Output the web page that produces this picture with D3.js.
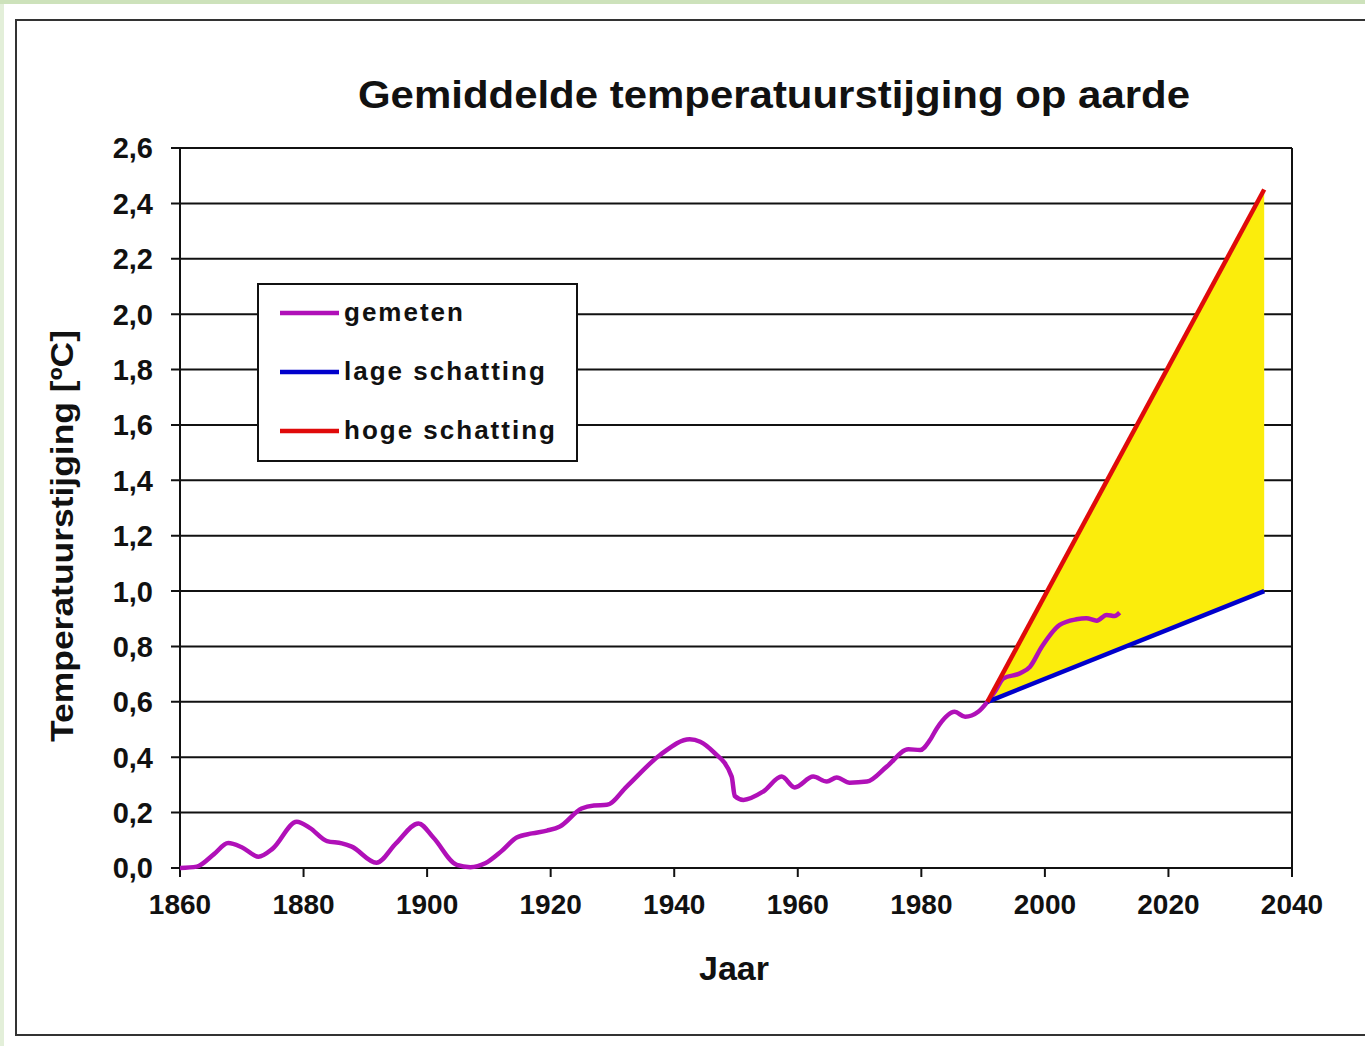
<!DOCTYPE html>
<html>
<head>
<meta charset="utf-8">
<script src="https://cdn.jsdelivr.net/npm/d3@7"></script>
<style>
  body { margin: 0; background: #fff; }
  svg text { font-family: Arial, "Liberation Sans", sans-serif; font-weight: bold; fill: #111; }
</style>
</head>
<body>
<div id="chart"></div>
<script>
// measured temperature rise (gemeten)
var measYears = [1860, 1862.7, 1865.5, 1867.8, 1870, 1872.7, 1875, 1878.9, 1881, 1883.8, 1886.2, 1887.8,
    1891.8, 1895, 1898.6, 1901, 1904.8, 1907, 1909.4, 1912, 1914.5, 1917, 1919.4, 1921.5, 1925, 1927,
    1929.1, 1932.3, 1937.7, 1942.5, 1944.2, 1946.3, 1949.3, 1949.8, 1951.2, 1954.4, 1957.4, 1959.5,
    1962.5, 1964.7, 1966.3, 1968.4, 1971.2, 1974.4, 1977.9, 1979.8, 1981.4, 1982.5, 1985.4, 1987.1,
    1989.2, 1990.7, 1992, 1993.3, 1996, 1997.6, 1999.5, 2002.4, 2005.1, 2006.7, 2008.4, 2010, 2011.3, 2012.1];
var measValues = [0.0, 0.005, 0.05, 0.09, 0.075, 0.041, 0.07, 0.167, 0.145, 0.097, 0.089, 0.077,
    0.019, 0.09, 0.161, 0.11, 0.011, 0.003, 0.017, 0.06, 0.11, 0.125, 0.135, 0.15, 0.215, 0.226,
    0.228, 0.294, 0.408, 0.465, 0.456, 0.42, 0.33, 0.26, 0.246, 0.276, 0.33, 0.291,
    0.33, 0.312, 0.327, 0.308, 0.312, 0.366, 0.429, 0.426, 0.462, 0.504, 0.564, 0.546,
    0.564, 0.6, 0.64, 0.685, 0.703, 0.727, 0.799, 0.878, 0.898, 0.902, 0.893, 0.914, 0.91, 0.922];

// projections
var projYears = [1990.7, 2035.5];
var lowValues = [0.6, 1.0];   // lage schatting
var highValues = [0.6, 2.45]; // hoge schatting

var xTicks = [1860, 1880, 1900, 1920, 1940, 1960, 1980, 2000, 2020, 2040];
var yTicks = [0, 0.2, 0.4, 0.6, 0.8, 1.0, 1.2, 1.4, 1.6, 1.8, 2.0, 2.2, 2.4, 2.6];

var legendNames = ["gemeten", "lage schatting", "hoge schatting"];
var legendColors = ["#b010b8", "#0000cc", "#e00a0a"];

var W = 1365, H = 1046;
var margin = {top: 148, right: 73, bottom: 178, left: 180};
var width = W - margin.left - margin.right;
var height = H - margin.top - margin.bottom;

var svg = d3.select("#chart").append("svg")
    .attr("width", W)
    .attr("height", H);

// page frame
svg.append("rect").attr("x", 0).attr("y", 0).attr("width", W).attr("height", H).attr("fill", "#e3efd9");
svg.append("rect").attr("x", 0).attr("y", 0).attr("width", W).attr("height", 4).attr("fill", "#cde2bb");
svg.append("rect").attr("x", 4).attr("y", 4).attr("width", W - 4).attr("height", H - 4).attr("fill", "#fff");
svg.append("rect").attr("x", 16).attr("y", 20).attr("width", W + 10).attr("height", 1015)
    .attr("fill", "none").attr("stroke", "#333").attr("stroke-width", 2);

var g = svg.append("g")
    .attr("transform", "translate(" + margin.left + "," + margin.top + ")");

var x = d3.scaleLinear().domain([1860, 2040]).range([0, width]);
var y = d3.scaleLinear().domain([0, 2.6]).range([height, 0]);

var fmt = function(d) { return d3.format(".1f")(d).replace(".", ","); };

// gridlines
g.append("g").attr("class", "grid")
    .selectAll("line")
    .data(yTicks)
    .enter().append("line")
    .attr("x1", -9).attr("x2", width)
    .attr("y1", function(d) { return y(d); })
    .attr("y2", function(d) { return y(d); })
    .attr("stroke", "#111").attr("stroke-width", 2);

// y axis labels
g.append("g").selectAll("text")
    .data(yTicks)
    .enter().append("text")
    .attr("x", -27)
    .attr("y", function(d) { return y(d); })
    .attr("dy", "0.36em")
    .attr("text-anchor", "end")
    .style("font-size", "29px")
    .text(fmt);

// x ticks + labels
g.append("g").selectAll("line")
    .data(xTicks)
    .enter().append("line")
    .attr("x1", function(d) { return x(d); })
    .attr("x2", function(d) { return x(d); })
    .attr("y1", height).attr("y2", height + 9)
    .attr("stroke", "#111").attr("stroke-width", 2);

g.append("g").selectAll("text")
    .data(xTicks)
    .enter().append("text")
    .attr("x", function(d) { return x(d); })
    .attr("y", height + 46)
    .attr("text-anchor", "middle")
    .style("font-size", "28px")
    .text(function(d) { return d; });

// plot border (left + right)
g.append("line").attr("x1", 0).attr("x2", 0).attr("y1", 0).attr("y2", height)
    .attr("stroke", "#111").attr("stroke-width", 2);
g.append("line").attr("x1", width).attr("x2", width).attr("y1", 0).attr("y2", height + 9)
    .attr("stroke", "#111").attr("stroke-width", 2);

// yellow band between estimates
var projData = projYears.map(function(yr, i) { return {year: yr, low: lowValues[i], high: highValues[i]}; });

var area = d3.area()
    .x(function(d) { return x(d.year); })
    .y0(function(d) { return y(d.low); })
    .y1(function(d) { return y(d.high); });

g.append("path")
    .datum(projData)
    .attr("d", area)
    .attr("fill", "#fbed0c");

// measured line
var measData = measYears.map(function(yr, i) { return {year: yr, v: measValues[i]}; });

var line = d3.line()
    .curve(d3.curveMonotoneX)
    .x(function(d) { return x(d.year); })
    .y(function(d) { return y(d.v); });

g.append("path")
    .datum(measData)
    .attr("d", line)
    .attr("fill", "none")
    .attr("stroke", legendColors[0])
    .attr("stroke-width", 4.5)
    .attr("stroke-linejoin", "round");

var projLine = function(key) {
    return d3.line()
        .x(function(d) { return x(d.year); })
        .y(function(d) { return y(d[key]); });
};

g.append("path").datum(projData).attr("d", projLine("low"))
    .attr("fill", "none").attr("stroke", legendColors[1]).attr("stroke-width", 4.5);
g.append("path").datum(projData).attr("d", projLine("high"))
    .attr("fill", "none").attr("stroke", legendColors[2]).attr("stroke-width", 4.5);

// legend
var legend = svg.append("g").attr("transform", "translate(258,284)");
legend.append("rect")
    .attr("width", 319).attr("height", 177)
    .attr("fill", "#fff").attr("stroke", "#111").attr("stroke-width", 2);

var items = legend.selectAll(".item")
    .data(legendNames)
    .enter().append("g")
    .attr("class", "item")
    .attr("transform", function(d, i) { return "translate(0," + (29 + i * 59) + ")"; });

items.append("line")
    .attr("x1", 22).attr("x2", 81)
    .attr("stroke", function(d, i) { return legendColors[i]; })
    .attr("stroke-width", 4.5);

items.append("text")
    .attr("x", 86).attr("y", 8)
    .style("font-size", "26px")
    .style("letter-spacing", "2px")
    .text(function(d) { return d; });

// titles
svg.append("text")
    .attr("x", 774).attr("y", 108)
    .attr("text-anchor", "middle")
    .attr("textLength", 832)
    .attr("lengthAdjust", "spacingAndGlyphs")
    .style("font-size", "39px")
    .text("Gemiddelde temperatuurstijging op aarde");

svg.append("text")
    .attr("transform", "translate(73,536) rotate(-90)")
    .attr("text-anchor", "middle")
    .attr("textLength", 412)
    .attr("lengthAdjust", "spacingAndGlyphs")
    .style("font-size", "32px")
    .text("Temperatuurstijging [ºC]");

svg.append("text")
    .attr("x", 734).attr("y", 980)
    .attr("text-anchor", "middle")
    .style("font-size", "34px")
    .text("Jaar");
</script>
</body>
</html>
